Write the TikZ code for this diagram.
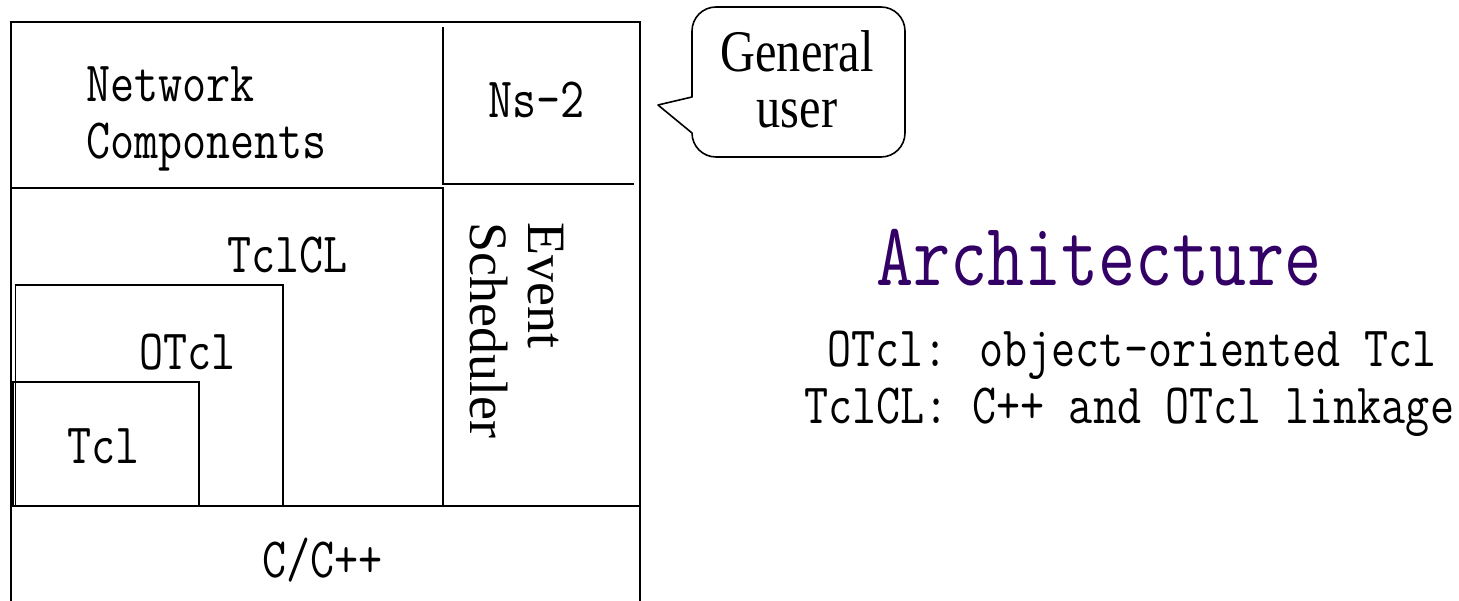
\documentclass[tikz,border=0pt]{standalone}
\usepackage{fontspec}
\newfontfamily\condmono[FakeStretch=0.82]{Latin Modern Mono}
\newfontfamily\titlemono[FakeStretch=0.8]{Latin Modern Mono}
\newfontfamily\condserif[FakeStretch=0.82]{Liberation Serif}
\newfontfamily\plainserif{Liberation Serif}
\definecolor{archpurple}{RGB}{51,0,102}
\tikzset{
  frame/.style={line width=2pt, line cap=rect},
  inner/.style={line width=1.4pt},
  label/.style={inner sep=0pt, anchor=base west, font=\condmono\fontsize{57}{64}\selectfont},
  vlabel/.style={inner sep=0pt, anchor=base west, rotate=-90, font=\plainserif\fontsize{54}{60}\selectfont},
  bubbletext/.style={inner sep=0pt, anchor=base, font=\condserif\fontsize{59}{66}\selectfont},
  bubble/.style={line width=1.6pt, line join=round},
  title/.style={inner sep=0pt, anchor=base west, text=archpurple, font=\titlemono\fontsize{90}{96}\selectfont},
}
\begin{document}
\begin{tikzpicture}[x=1pt, y=-1pt]
  \useasboundingbox (0,0) rectangle (1459,601);

  % outer frame, open at the bottom
  \draw[frame] (11,601) -- (11,22) -- (640,22) -- (640,601);

  % Ns-2 corner
  \draw[frame] (443,28) -- (443,184) -- (633,184);

  % Network Components / TclCL split and TclCL box
  \draw[frame] (11,188) -- (443,188) -- (443,506);
  \draw[frame] (11,506) -- (640,506);

  % nested OTcl and Tcl boxes
  \draw[inner] (15.5,506) -- (15.5,285) -- (283,285) -- (283,506);
  \draw[inner] (13,506) -- (13,382) -- (199,382) -- (199,506);

  % labels inside the frame
  \node[label] (netA) at (86,102) {Network};
  \node[label] (netB) at (86,159) {Components};
  \node[label] (ns) at (488,118) {Ns-2};
  \node[label] (tclcl) at (227,273) {TclCL};
  \node[label] (otcl) at (139,370) {OTcl};
  \node[label] (tcl) at (67,463) {Tcl};
  \node[label] (cpp) at (262,577) {C/C++};
  \node[vlabel] (evA) at (528,222) {Event};
  \node[vlabel] (evB) at (470,222) {Scheduler};

  % speech bubble
  \draw[bubble] (692,97) -- (692,31)
    arc[start angle=180, end angle=270, radius=24] -- (881,7)
    arc[start angle=270, end angle=360, radius=24] -- (905,133)
    arc[start angle=0, end angle=90, radius=24] -- (716,157)
    arc[start angle=90, end angle=180, radius=24]
    -- (658,105) -- cycle;
  \node[bubbletext] (userA) at (797,72) {General};
  \node[bubbletext] (userB) at (797,128) {user};

  % title and legend
  \node[title] (arch) at (876,286) {Architecture};
  \node[label] (legA) at (827,367) {OTcl: object-oriented Tcl};
  \node[label] (legB) at (804,423) {TclCL: C++ and OTcl linkage};
\end{tikzpicture}
\end{document}
